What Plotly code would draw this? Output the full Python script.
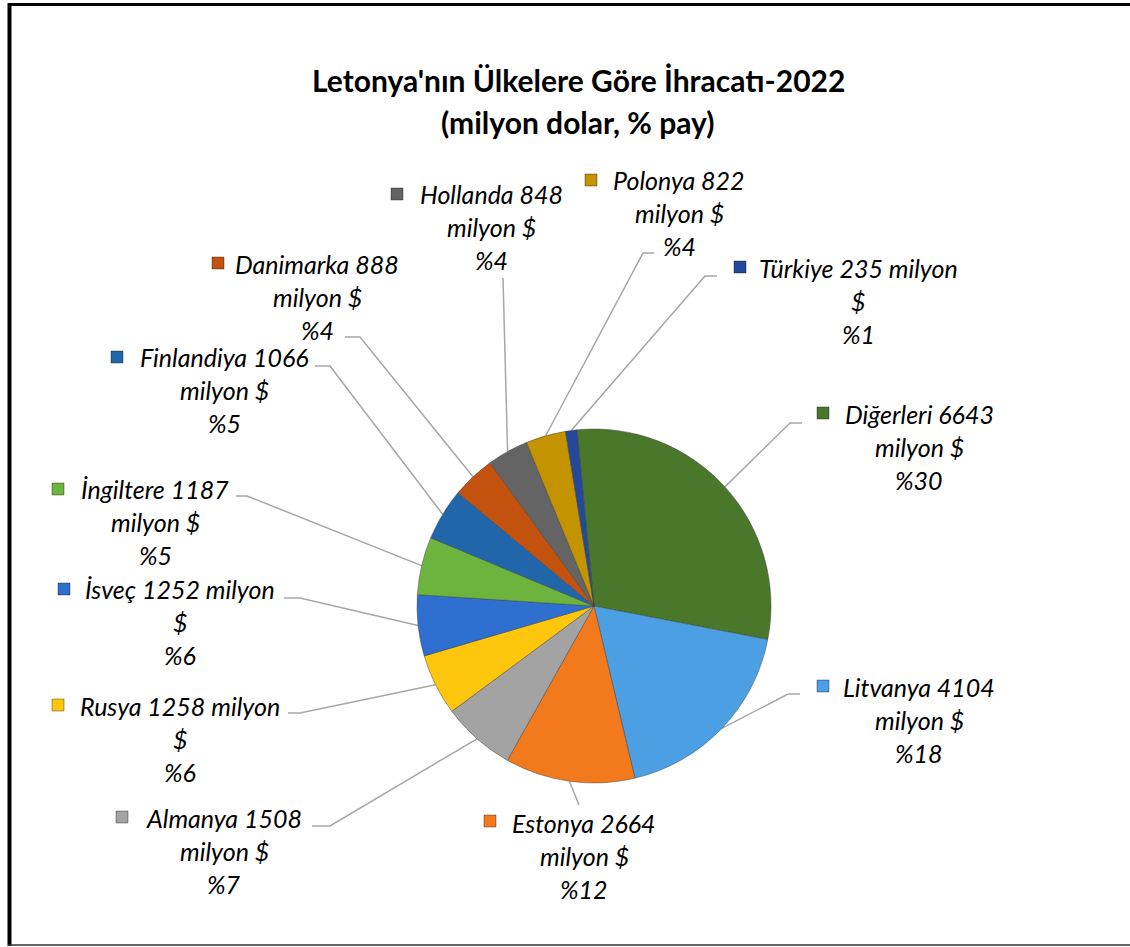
import math
import plotly.graph_objects as go

# ---------------- data ----------------
countries = ["Diğerleri", "Litvanya", "Estonya", "Almanya", "Rusya", "İsveç",
             "İngiltere", "Finlandiya", "Danimarka", "Hollanda", "Polonya", "Türkiye"]
values = [6643, 4104, 2664, 1508, 1258, 1252, 1187, 1066, 888, 848, 822, 235]
label_lines = [
    ["Diğerleri 6643", "milyon $", "%30"],
    ["Litvanya 4104", "milyon $", "%18"],
    ["Estonya 2664", "milyon $", "%12"],
    ["Almanya 1508", "milyon $", "%7"],
    ["Rusya 1258 milyon", "$", "%6"],
    ["İsveç 1252 milyon", "$", "%6"],
    ["İngiltere 1187", "milyon $", "%5"],
    ["Finlandiya 1066", "milyon $", "%5"],
    ["Danimarka 888", "milyon $", "%4"],
    ["Hollanda 848", "milyon $", "%4"],
    ["Polonya 822", "milyon $", "%4"],
    ["Türkiye 235 milyon", "$", "%1"],
]
title_lines = ["Letonya'nın Ülkelere Göre İhracatı-2022", "(milyon dolar, % pay)"]

# ---------------- styles / layout ----------------
colors = ["#4a782b", "#4b9fe2", "#f27a1c", "#a3a3a3", "#ffc60e", "#2f6fd0",
          "#6cb43e", "#2166ab", "#c4520f", "#646464", "#c49300", "#24499a"]

W, H = 1130, 947
CX, CY, R = 594, 606, 177
ROTATION = -5.5

# text center x, first line y, key x, key y, elbow point, end point (pixels)
label_pos = [
    (919, 414, 823, 413, (790, 423), (802, 423)),
    (919, 687, 823, 686, (788, 694), (800, 694)),
    (584, 823, 490, 821, None, (579, 805)),
    (224, 818, 122, 817, (330, 826), (312, 826)),
    (180, 706, 58, 705, (300, 713), (288, 713)),
    (180, 589, 64, 589, (300, 598), (284, 598)),
    (155, 489, 58, 489, (247, 496), (236, 496)),
    (224, 357, 117, 357, (330, 366), (315, 366)),
    (317, 264, 218, 263, (360, 337), (345, 337)),
    (491, 194, 397, 194, None, (503, 278)),
    (679, 180, 591, 180, (643, 253), (654, 253)),
    (858, 268, 740, 267, (705, 276), (717, 276)),
]
LINE_GAP = 33
FONT = "Lato"
LABEL_SIZE = 25

fig = go.Figure()

fig.add_trace(go.Pie(
    labels=countries, values=values, sort=False, direction="clockwise",
    rotation=ROTATION, textinfo="none",
    marker=dict(colors=colors, line=dict(color="rgba(60,60,60,0.45)", width=1)),
    domain=dict(x=[(CX - R) / W, (CX + R) / W],
                y=[1 - (CY + R) / H, 1 - (CY - R) / H]),
    showlegend=False,
))

# leader lines, starting at the slice mid-angle on the pie edge
total = sum(values)
cum = 0
for i, v in enumerate(values):
    mid = math.radians(ROTATION + (cum + v / 2) / total * 360)
    cum += v
    sx = CX + R * math.sin(mid)
    sy = CY - R * math.cos(mid)
    _, _, _, _, elbow, end = label_pos[i]
    xs = [sx] + ([elbow[0]] if elbow else []) + [end[0]]
    ys = [sy] + ([elbow[1]] if elbow else []) + [end[1]]
    fig.add_trace(go.Scatter(x=xs, y=ys, mode="lines",
                             line=dict(color="#a6a6a6", width=1.5),
                             hoverinfo="skip", showlegend=False))

# legend keys
fig.add_trace(go.Scatter(
    x=[p[2] for p in label_pos], y=[p[3] for p in label_pos], mode="markers",
    marker=dict(symbol="square", size=12, color=colors,
                line=dict(color="rgba(0,0,0,0.35)", width=1)),
    hoverinfo="skip", showlegend=False))

annotations = []
for i, lines in enumerate(label_lines):
    cx, y1 = label_pos[i][0], label_pos[i][1]
    for j, t in enumerate(lines):
        annotations.append(dict(
            x=cx, y=y1 + j * LINE_GAP, xref="x", yref="y", text=f"<i>{t}</i>",
            showarrow=False, xanchor="center", yanchor="middle",
            font=dict(family=FONT, size=LABEL_SIZE, color="#000000")))

for j, t in enumerate(title_lines):
    annotations.append(dict(
        x=578, y=80 + j * 42, xref="x", yref="y", text=f"<b>{t}</b>",
        showarrow=False, xanchor="center", yanchor="middle",
        font=dict(family=FONT, size=30, color="#000000")))

shapes = [
    dict(type="line", xref="x", yref="y", x0=9.5, x1=9.5, y0=3, y1=946,
         line=dict(color="#000000", width=4)),
    dict(type="line", xref="x", yref="y", x0=8, x1=1130, y0=4.5, y1=4.5,
         line=dict(color="#000000", width=3)),
    dict(type="line", xref="x", yref="y", x0=8, x1=1130, y0=945, y1=945,
         line=dict(color="#333333", width=1.5)),
]

fig.update_layout(
    width=W, height=H,
    margin=dict(l=0, r=0, t=0, b=0),
    paper_bgcolor="white", plot_bgcolor="rgba(0,0,0,0)",
    xaxis=dict(range=[0, W], visible=False, domain=[0, 1], fixedrange=True),
    yaxis=dict(range=[H, 0], visible=False, domain=[0, 1], fixedrange=True),
    annotations=annotations, shapes=shapes,
)

fig.write_html("out.html", config={"displayModeBar": False},
               post_script="document.body.style.margin='0';")
